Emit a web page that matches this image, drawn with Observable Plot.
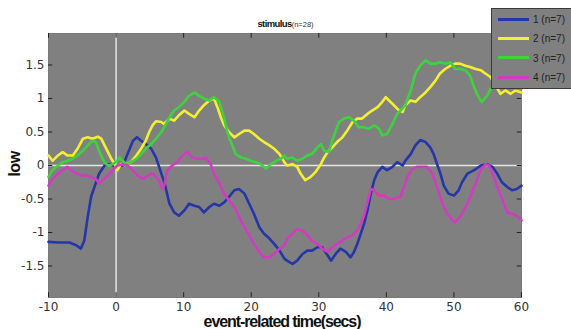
<!DOCTYPE html>
<html>
<head>
<meta charset="utf-8">
<script src="https://cdn.jsdelivr.net/npm/d3@7"></script>
<script src="https://cdn.jsdelivr.net/npm/@observablehq/plot@0.6"></script>
<style>
  html, body { margin: 0; padding: 0; background: #fff; }
  #wrap { position: relative; width: 571px; height: 329px; overflow: hidden; font-family: "Liberation Sans", Arial, sans-serif; }
  #wrap svg { position: absolute; left: 0; top: 0; }
  .ov { position: absolute; white-space: nowrap; }
  #title { left: 0; width: 571px; top: 13px; text-align: center; color: #111; }
  #title b { font-size: 9.5px; letter-spacing: -0.6px; }
  #title span { font-size: 7.5px; color: #333; }
  #ylab { left: 15px; top: 164px; transform: translate(-50%, -50%) rotate(-90deg); font-weight: bold; font-size: 16px; color: #111; letter-spacing: -0.5px; }
  #xlab { left: 282px; top: 313px; transform: translateX(-50%); font-weight: bold; font-size: 16px; color: #111; letter-spacing: -1.1px; }
  #legend { left: 491px; top: 8px; width: 100px; height: 79px; background: #808080; border: 1px solid #3a3a3a; }
  .li { position: absolute; left: 6px; height: 12px; font-size: 10px; color: #222; }
  .li i { display: inline-block; width: 31px; height: 3px; vertical-align: middle; margin-right: 4px; position: relative; top: -1px; }
</style>
</head>
<body>
<div id="wrap">
  <div id="plot"></div>
  <div class="ov" id="title"><b>stimulus</b><span>(n=28)</span></div>
  <div class="ov" id="ylab">low</div>
  <div class="ov" id="xlab">event-related time(secs)</div>
  <div class="ov" id="legend"></div>
</div>
<script>
const seriesNames = ["1 (n=7)", "2 (n=7)", "3 (n=7)", "4 (n=7)"];
const seriesColors = ["#2536a8", "#f2f032", "#3fd23f", "#d03cc0"];
const xTicks = [-10, 0, 10, 20, 30, 40, 50, 60];
const yTicks = [-1.5, -1, -0.5, 0, 0.5, 1, 1.5];
const xDomain = [-10, 60];
const yDomain = [-1.97, 1.97];

// series 1 (blue)
const s1 = [[-10,-1.14],[-8.5,-1.15],[-6.9,-1.15],[-5.9,-1.19],[-5.2,-1.24],[-4.7,-1.12],[-4.2,-0.77],[-3.7,-0.47],[-3.2,-0.32],[-2.5,-0.12],[-1.7,0],[-1.0,0.02],[0,-0.02],[1.0,0],[1.7,0.17],[2.5,0.37],[3.1,0.42],[3.7,0.37],[4.4,0.32],[5.2,0.25],[5.9,0.12],[6.7,-0.12],[7.2,-0.27],[7.9,-0.57],[8.6,-0.70],[9.3,-0.75],[10.1,-0.67],[10.8,-0.57],[11.6,-0.6],[12.3,-0.62],[13.0,-0.70],[13.8,-0.62],[14.5,-0.57],[15.3,-0.6],[16.0,-0.55],[16.7,-0.47],[17.5,-0.37],[18.2,-0.35],[19.0,-0.42],[19.7,-0.57],[20.4,-0.72],[21.2,-0.92],[21.9,-1.02],[22.7,-1.09],[23.4,-1.17],[24.2,-1.27],[24.9,-1.39],[25.3,-1.42],[26.1,-1.47],[26.8,-1.42],[27.6,-1.32],[28.3,-1.27],[29.0,-1.27],[29.8,-1.22],[30.5,-1.22],[31.3,-1.34],[31.8,-1.42],[32.5,-1.32],[33.2,-1.24],[34.0,-1.29],[34.7,-1.37],[35.2,-1.29],[35.7,-1.17],[36.2,-1.02],[36.7,-0.87],[37.2,-0.67],[37.7,-0.42],[38.2,-0.22],[38.7,-0.10],[39.4,-0.02],[40.1,-0.07],[40.9,-0.02],[41.6,0.05],[42.4,0],[42.8,0.07],[43.6,0.17],[44.3,0.30],[45.0,0.38],[45.8,0.35],[46.5,0.27],[47.0,0.17],[47.5,0.02],[48.0,-0.12],[48.5,-0.30],[49.2,-0.42],[50.0,-0.45],[50.7,-0.37],[51.2,-0.25],[52.0,-0.12],[53.0,-0.07],[54.0,0],[54.9,0.02],[55.7,-0.02],[56.4,-0.12],[57.1,-0.25],[57.9,-0.32],[58.6,-0.37],[59.3,-0.35],[60,-0.30]];

// series 2 (yellow)
const s2 = [[-10,0.15],[-9.4,0.07],[-8.6,0.15],[-7.9,0.2],[-7.2,0.15],[-6.4,0.15],[-5.7,0.25],[-4.9,0.40],[-4.2,0.42],[-3.5,0.40],[-2.7,0.43],[-2.2,0.40],[-1.7,0.30],[-1.2,0.2],[-0.7,0.10],[-0.2,0.02],[0.2,-0.07],[0.7,0.02],[1.5,0.02],[2.2,0.05],[3.0,0.15],[3.7,0.25],[4.4,0.37],[4.9,0.50],[5.4,0.60],[5.9,0.66],[6.7,0.65],[7.1,0.62],[7.9,0.70],[8.6,0.67],[9.3,0.75],[10.1,0.82],[10.8,0.77],[11.6,0.72],[12.3,0.82],[13.0,0.90],[13.8,0.97],[14.5,1.0],[15.0,0.87],[15.5,0.72],[16.0,0.60],[16.7,0.50],[17.5,0.42],[18.2,0.47],[19.0,0.52],[19.7,0.52],[20.4,0.47],[21.2,0.40],[21.9,0.35],[22.7,0.30],[23.4,0.25],[24.2,0.17],[24.9,0.05],[25.3,0],[26.1,0.02],[26.8,-0.02],[27.3,-0.12],[28.0,-0.22],[28.8,-0.17],[29.5,-0.10],[30.3,0.02],[30.8,0.12],[31.3,0.20],[32.0,0.27],[32.7,0.35],[33.5,0.42],[34.2,0.52],[35.0,0.65],[35.7,0.70],[36.4,0.70],[37.2,0.77],[37.9,0.82],[38.7,0.87],[39.4,0.95],[39.9,1.02],[40.4,0.97],[41.1,0.90],[41.9,0.82],[42.4,0.80],[42.8,0.90],[43.6,0.97],[44.3,0.95],[45.0,1.02],[45.8,1.09],[46.5,1.17],[47.3,1.27],[47.9,1.37],[48.7,1.44],[49.5,1.49],[50.2,1.52],[50.9,1.52],[51.7,1.49],[52.4,1.47],[53.2,1.44],[54.0,1.42],[54.7,1.37],[55.4,1.32],[56.2,1.19],[56.9,1.07],[57.6,1.12],[58.4,1.07],[59.1,1.12],[60,1.09]];

// series 3 (green)
const s3 = [[-10,-0.17],[-9.4,-0.07],[-8.6,0],[-7.9,0.05],[-7.2,0.07],[-6.4,0.10],[-5.7,0.15],[-4.9,0.22],[-4.2,0.30],[-3.5,0.37],[-3.0,0.35],[-2.5,0.22],[-2.0,0.10],[-1.5,0.02],[-1.0,0],[-0.5,0.02],[0,0.05],[0.5,0.12],[1.0,0.07],[1.5,0.02],[2.2,0.05],[3.0,0.10],[3.7,0.17],[4.4,0.25],[5.2,0.32],[5.9,0.40],[6.7,0.50],[7.4,0.62],[7.9,0.72],[8.6,0.82],[9.3,0.87],[10.1,0.95],[10.8,1.04],[11.6,1.09],[12.3,1.04],[13.0,1.0],[13.8,0.97],[14.5,1.02],[15.3,0.95],[15.8,0.77],[16.3,0.57],[16.7,0.42],[17.2,0.30],[17.7,0.17],[18.5,0.12],[19.2,0.10],[19.9,0.07],[20.7,0.05],[21.4,0.02],[22.2,-0.05],[22.9,0.02],[23.7,0.07],[24.4,0.10],[24.9,0.15],[25.3,0.10],[26.1,0.12],[26.8,0.07],[27.6,0.10],[28.3,0.15],[29.0,0.17],[29.8,0.27],[30.3,0.32],[30.8,0.22],[31.5,0.20],[32.0,0.37],[32.5,0.52],[33.0,0.65],[33.7,0.70],[34.5,0.72],[35.2,0.67],[35.9,0.57],[36.7,0.57],[37.4,0.55],[38.2,0.60],[38.9,0.55],[39.4,0.45],[40.1,0.47],[40.9,0.62],[41.6,0.77],[42.4,0.85],[42.8,0.90],[43.6,1.12],[44.3,1.37],[45.0,1.49],[45.8,1.57],[46.5,1.52],[47.3,1.52],[47.9,1.54],[48.7,1.52],[49.5,1.54],[50.2,1.44],[50.9,1.44],[51.7,1.42],[52.4,1.34],[52.9,1.19],[53.4,1.07],[54.1,0.95],[54.9,1.04],[55.4,1.14],[56.2,1.22],[57.0,1.25],[58.0,1.2],[59.0,1.15],[60,1.15]];

// series 4 (magenta)
const s4 = [[-10,-0.30],[-9.4,-0.20],[-8.6,-0.12],[-7.9,-0.07],[-7.2,-0.02],[-6.7,-0.07],[-5.9,-0.12],[-5.2,-0.15],[-4.4,-0.15],[-3.7,-0.17],[-3.0,-0.20],[-2.5,-0.27],[-2.0,-0.22],[-1.2,-0.15],[-0.5,-0.07],[0.2,0],[1.0,0.02],[1.7,0],[2.5,-0.07],[3.2,-0.15],[4.0,-0.20],[4.7,-0.15],[5.4,-0.12],[6.2,-0.20],[6.9,-0.35],[7.2,-0.27],[7.6,-0.07],[8.3,0],[9.1,0.05],[9.8,0.15],[10.5,0.20],[11.3,0.12],[12.0,0.10],[12.8,0.10],[13.3,0.12],[14.0,0.02],[14.5,-0.12],[15.3,-0.27],[16.0,-0.42],[16.7,-0.52],[17.5,-0.62],[18.2,-0.77],[19.0,-0.92],[19.7,-1.04],[20.4,-1.17],[21.2,-1.29],[21.9,-1.37],[22.7,-1.37],[23.4,-1.32],[24.2,-1.24],[24.9,-1.19],[25.3,-1.09],[26.1,-1.02],[26.8,-0.95],[27.6,-0.97],[28.3,-1.04],[29.0,-1.12],[29.8,-1.17],[30.5,-1.24],[31.3,-1.29],[32.0,-1.22],[32.7,-1.17],[33.5,-1.12],[34.2,-1.07],[35.0,-1.04],[35.7,-0.97],[36.2,-0.87],[36.7,-0.75],[37.2,-0.55],[37.7,-0.35],[38.2,-0.37],[38.9,-0.45],[39.7,-0.45],[40.4,-0.50],[41.1,-0.50],[41.9,-0.47],[42.1,-0.47],[42.6,-0.32],[43.1,-0.17],[43.8,-0.05],[44.5,-0.02],[45.3,-0.02],[46.0,-0.02],[46.8,-0.12],[47.3,-0.27],[47.8,-0.42],[48.3,-0.57],[49.0,-0.72],[49.8,-0.82],[50.2,-0.85],[51.0,-0.75],[51.7,-0.62],[52.4,-0.47],[53.2,-0.27],[53.9,-0.07],[54.7,0.02],[55.2,0],[55.7,-0.12],[56.4,-0.32],[57.2,-0.52],[57.9,-0.70],[58.6,-0.72],[59.3,-0.75],[60,-0.82]];

const allSeries = [s1, s2, s3, s4];
const rows = allSeries.flatMap((s, i) => s.map(([x, y]) => ({x, y, series: seriesNames[i]})));

const tickLenY = (yDomain[1] - yDomain[0]) * 0.018;
const tickLenX = (xDomain[1] - xDomain[0]) * 0.009;

const chart = Plot.plot({
  width: 571, height: 329,
  marginLeft: 48, marginRight: 50, marginTop: 33, marginBottom: 32,
  x: {domain: xDomain},
  y: {domain: yDomain},
  color: {domain: seriesNames, range: seriesColors},
  style: {background: "transparent", fontFamily: "DejaVu Sans, sans-serif", fontSize: "12px", color: "#333"},
  marks: [
    Plot.frame({fill: "#808080", stroke: "#7a7a7a"}),
    Plot.ruleY([0], {stroke: "#e4e4e4", strokeWidth: 1.5}),
    Plot.ruleX([0], {stroke: "#e4e4e4", strokeWidth: 1.5}),
    Plot.ruleX(xTicks, {x: d => d, y1: yDomain[0], y2: yDomain[0] + tickLenY, stroke: "#222"}),
    Plot.ruleX(xTicks, {x: d => d, y1: yDomain[1] - tickLenY, y2: yDomain[1], stroke: "#222"}),
    Plot.ruleY(yTicks, {y: d => d, x1: xDomain[0], x2: xDomain[0] + tickLenX, stroke: "#222"}),
    Plot.ruleY(yTicks, {y: d => d, x1: xDomain[1] - tickLenX, x2: xDomain[1], stroke: "#222"}),
    Plot.line(rows, {x: "x", y: "y", z: "series", stroke: "series", strokeWidth: 2.6, curve: "linear"}),
    Plot.axisX(xTicks, {anchor: "bottom", tickSize: 0, tickPadding: 5, label: null, tickFormat: d => String(d), fill: "#333"}),
    Plot.axisY(yTicks, {anchor: "left", tickSize: 0, tickPadding: 4, label: null, tickFormat: d => String(d), fill: "#333"})
  ]
});
document.getElementById("plot").appendChild(chart);

const legend = document.getElementById("legend");
seriesNames.forEach((name, i) => {
  const d = document.createElement("div");
  d.className = "li";
  d.style.top = (5 + i * 19.3) + "px";
  d.innerHTML = `<i style="background:${seriesColors[i]}"></i>${name}`;
  legend.appendChild(d);
});
</script>
</body>
</html>
